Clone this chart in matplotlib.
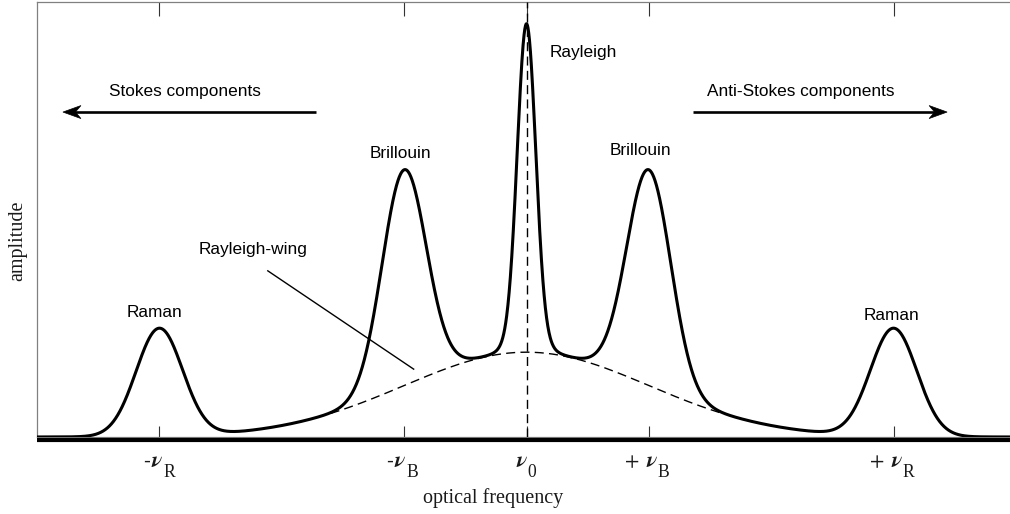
import numpy as np
import matplotlib
matplotlib.use("Agg")
import matplotlib.pyplot as plt
import matplotlib.transforms as mtransforms
from matplotlib.patches import Polygon

plt.rcParams['lines.scale_dashes'] = False

# ---- data ----
peak_names = ["Raman", "Brillouin", "Rayleigh", "Rayleigh (base)", "Brillouin", "Raman"]
peak_centers = [-3.0, -1.0, 0.0, 0.0, 1.0, 3.0]        # in units of nu_B
peak_heights = [0.248, 0.496, 0.72, 0.035, 0.496, 0.248]
peak_sigmas = [0.19, 0.18, 0.075, 0.13, 0.18, 0.19]
wing_height = 0.195
wing_sigma = 1.0
wing_dashed_range = [-1.6, 1.6]
tick_positions = [-3.0, -1.0, 0.0, 1.0, 3.0]
tick_prefix = ["-", "-", "", "+ ", "+ "]
tick_sub = ["R", "B", "0", "B", "R"]

W, H = 1010, 514
fig = plt.figure(figsize=(W / 100, H / 100), dpi=100)
ax = fig.add_axes([37 / W, (H - 437) / H, (1016 - 37) / W, (437 - 2) / H])

x = np.linspace(-4, 4, 4001)
wing = wing_height * np.exp(-x**2 / (2 * wing_sigma**2))
total = wing.copy()
for c, h, s in zip(peak_centers, peak_heights, peak_sigmas):
    total += h * np.exp(-(x - c)**2 / (2 * s**2))

ax.plot(x, total, color='black', lw=2.2, solid_joinstyle='round', zorder=5)

xm = (x >= wing_dashed_range[0]) & (x <= wing_dashed_range[1])
ax.plot(x[xm], wing[xm], color='black', lw=1.0, dashes=(6.5, 3.8), zorder=4)
ax.plot([0, 0], [0, 1], color='black', lw=1.0, dashes=(6.5, 3.8), zorder=4)

# thick baseline
ax.plot([-4, 4], [-2.5 / 435, -2.5 / 435], color='black', lw=3.0,
        solid_capstyle='butt', clip_on=False, zorder=6)

ax.set_xlim(-4, 4)
ax.set_ylim(0, 1)
ax.set_xticks(tick_positions)
ax.set_yticks([])
ax.tick_params(axis='x', direction='in', top=True, bottom=True,
               labelbottom=False, length=8, width=0.8, color='#333333')
for sp in ['left', 'top', 'bottom']:
    ax.spines[sp].set_color('#808080')
    ax.spines[sp].set_linewidth(0.9)
ax.spines['right'].set_visible(False)
for t in ax.xaxis.get_major_ticks():
    t.tick2line.set_markersize(10)

# tick labels: prefix + bold italic nu + upright subscript
label_color = '#1a1a1a'
junction = [3, 1, 0, 8, 8]
for pos, p, s, j in zip(tick_positions, tick_prefix, tick_sub, junction):
    ax.annotate('\u03bd', xy=(pos, 0), xycoords=('data', 'axes fraction'),
                xytext=(j, -30), textcoords='offset pixels', ha='right', va='baseline',
                family='STIXGeneral', style='italic', weight='bold', fontsize=16,
                color=label_color, annotation_clip=False)
    if p:
        ax.annotate(p, xy=(pos, 0), xycoords=('data', 'axes fraction'),
                    xytext=(j - 12, -30), textcoords='offset pixels', ha='right',
                    va='baseline', family='STIXGeneral', fontsize=15,
                    color=label_color, annotation_clip=False)
    ax.annotate(s, xy=(pos, 0), xycoords=('data', 'axes fraction'),
                xytext=(j + 1, -40), textcoords='offset pixels', ha='left', va='baseline',
                family='Liberation Serif', fontsize=12.7, color=label_color,
                annotation_clip=False)

fig.text(493 / W, 1 - 503 / H, 'optical frequency', ha='center', va='baseline',
         family='Liberation Serif', fontsize=14.5, color=label_color)
fig.text(18 / W, 1 - 241 / H, 'amplitude', ha='center', va='center', rotation=90,
         family='Liberation Serif', fontsize=14.5, color=label_color)

sans = dict(family='Liberation Sans', fontsize=12.4, va='baseline', ha='center')
ax.text(-2.79, 0.784, 'Stokes components', **sans)
ax.text(2.237, 0.784, 'Anti-Stokes components', **sans)
ax.text(0.465, 0.874, 'Rayleigh', **sans)
ax.text(-1.03, 0.641, 'Brillouin', **sans)
ax.text(0.93, 0.648, 'Brillouin', **sans)
ax.text(-3.037, 0.276, 'Raman', **sans)
ax.text(2.98, 0.269, 'Raman', **sans)
ax.text(-2.237, 0.421, 'Rayleigh-wing', **sans)

ax.plot([-2.114, -0.922], [0.382, 0.156], color='black', lw=1.0, zorder=3)


def arrow(x0, x1, y):
    d = 1 if x1 > x0 else -1
    ax.plot([x0, x1 - d * 0.08], [y, y], color='black', lw=1.9,
            solid_capstyle='butt', zorder=5)
    verts = np.array([[0, 0], [-18, 6.5], [-12.5, 0], [-18, -6.5]], float)
    verts[:, 0] *= d
    tr = mtransforms.Affine2D() + mtransforms.ScaledTranslation(x1, y, ax.transData)
    ax.add_patch(Polygon(verts, closed=True, facecolor='black', edgecolor='black',
                         lw=0.5, transform=tr, zorder=6, clip_on=False))


arrow(-1.722, -3.788, 0.747)
arrow(1.363, 3.437, 0.747)

fig.savefig('out.png', dpi=100)
